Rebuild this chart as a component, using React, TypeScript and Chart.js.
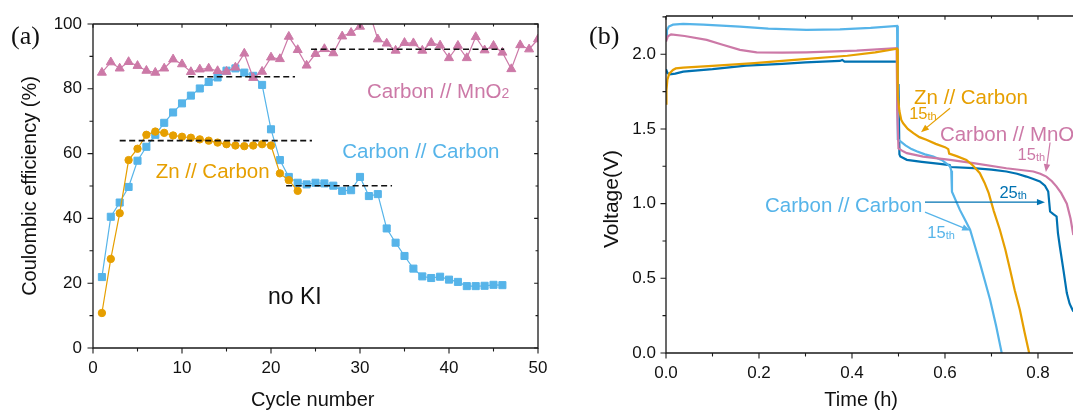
import React, { useEffect, useRef } from 'react';
import { Chart, registerables } from 'chart.js';

Chart.register(...registerables);

const FONT = "'Liberation Sans', Arial, sans-serif";
const PINK = '#CC79A7';
const SKY = '#56B4E9';
const ORANGE = '#E69F00';
const BLUE = '#0072B2';
const INK = '#111111';

// ---------- Panel (a): Coulombic efficiency vs cycle ----------
const cycles = [1, 2, 3, 4, 5, 6, 7, 8, 9, 10, 11, 12, 13, 14, 15, 16, 17, 18, 19, 20, 21, 22, 23, 24, 25,
  26, 27, 28, 29, 30, 31, 32, 33, 34, 35, 36, 37, 38, 39, 40, 41, 42, 43, 44, 45, 46, 47, 48, 49, 50];
const ceCarbonMnO2 = [85.0, 88.2, 86.3, 88.3, 87.1, 85.6, 85.0, 86.3, 89.1, 87.6, 85.2, 86.0, 86.3, 85.5, 85.3,
  86.6, 90.9, 83.4, 85.3, 89.7, 89.2, 96.1, 92.0, 87.2, 90.8, 92.3, 91.0, 96.2, 97.3, 99.2, 104.0, 95.3, 94.0,
  91.8, 94.2, 94.1, 91.8, 94.2, 93.4, 89.5, 93.3, 89.5, 96.0, 91.9, 93.3, 91.2, 86.1, 93.5, 92.2, 95.3];
const ceCarbonCarbon = [21.9, 40.5, 44.9, 49.7, 57.8, 62.1, 65.8, 69.5, 72.7, 75.5, 77.9, 80.1, 82.1, 83.5,
  85.6, 86.3, 85.0, 84.0, 81.2, 67.5, 58.0, 52.8, 51.0, 50.5, 51.0, 50.8, 50.1, 48.5, 48.7, 52.8, 46.9, 47.5,
  36.9, 32.5, 28.4, 24.5, 22.1, 21.6, 22.0, 21.1, 20.4, 19.1, 19.1, 19.2, 19.5, 19.4];
const ceZnCarbon = [10.8, 27.5, 41.6, 58.0, 61.5, 65.8, 66.8, 66.4, 65.6, 65.2, 64.9, 64.4, 64.0, 63.4, 62.9,
  62.5, 62.3, 62.5, 62.9, 62.5, 53.9, 51.8, 48.5];
const refLevel = [83.7, 64.0, 50.1, 92.2];
const refStart = [10.7, 3.0, 21.7, 24.5];
const refEnd = [22.7, 24.6, 33.6, 46.2];

// ---------- Panel (b): voltage vs time ----------
const ccTime15 = [0, 0.002, 0.006, 0.015, 0.037, 0.08, 0.159, 0.22, 0.302, 0.374, 0.44, 0.497, 0.4985, 0.505,
  0.515, 0.528, 0.539, 0.557, 0.575, 0.595, 0.611, 0.6135, 0.615, 0.632, 0.645, 0.654, 0.665, 0.675, 0.686,
  0.697, 0.71, 0.722];
const ccVolt15 = [2.11, 2.16, 2.185, 2.198, 2.203, 2.198, 2.185, 2.172, 2.163, 2.167, 2.177, 2.19, 1.43, 1.415,
  1.39, 1.365, 1.35, 1.33, 1.315, 1.288, 1.25, 1.22, 1.08, 0.958, 0.88, 0.825, 0.71, 0.603, 0.48, 0.357, 0.18, 0];

const znTime15 = [0, 0.001, 0.003, 0.007, 0.015, 0.021, 0.037, 0.1, 0.19, 0.29, 0.39, 0.45, 0.497, 0.4985,
  0.502, 0.506, 0.51, 0.52, 0.532, 0.545, 0.56, 0.58, 0.6, 0.607, 0.609, 0.625, 0.646, 0.66, 0.675, 0.685,
  0.694, 0.705, 0.718, 0.73, 0.74, 0.75, 0.761, 0.771, 0.781];
const znVolt15 = [1.67, 1.76, 1.83, 1.87, 1.895, 1.905, 1.91, 1.922, 1.94, 1.965, 1.99, 2.012, 2.037, 1.72,
  1.62, 1.56, 1.538, 1.5, 1.472, 1.445, 1.427, 1.4, 1.378, 1.365, 1.335, 1.318, 1.293, 1.255, 1.204, 1.14,
  1.07, 0.95, 0.825, 0.69, 0.557, 0.42, 0.29, 0.14, 0];

const ccTime25 = [0, 0.003, 0.008, 0.02, 0.037, 0.1, 0.172, 0.25, 0.3, 0.374, 0.379, 0.384, 0.45, 0.497,
  0.4985, 0.5, 0.502, 0.504, 0.518, 0.55, 0.589, 0.61, 0.612, 0.661, 0.7, 0.732, 0.755, 0.775, 0.79, 0.804,
  0.815, 0.822, 0.826, 0.833, 0.84, 0.843, 0.847, 0.855, 0.862, 0.868, 0.876];
const ccVolt25 = [1.9, 1.875, 1.865, 1.87, 1.884, 1.9, 1.924, 1.935, 1.945, 1.955, 1.962, 1.95, 1.95, 1.95,
  1.62, 1.8, 1.33, 1.315, 1.293, 1.28, 1.266, 1.258, 1.245, 1.237, 1.228, 1.215, 1.2, 1.181, 1.165, 1.148,
  1.12, 1.081, 0.947, 0.93, 0.914, 0.8, 0.713, 0.55, 0.401, 0.33, 0.278];

const cmTime15 = [0, 0.004, 0.011, 0.04, 0.0875, 0.12, 0.159, 0.195, 0.25, 0.302, 0.41, 0.496, 0.4975, 0.5,
  0.51, 0.518, 0.553, 0.611, 0.661, 0.732, 0.79, 0.805, 0.818, 0.83, 0.84, 0.85, 0.862, 0.87, 0.876];
const cmVolt15 = [2.085, 2.12, 2.133, 2.122, 2.096, 2.065, 2.029, 2.013, 2.011, 2.013, 2.024, 2.04, 1.6, 1.37,
  1.35, 1.338, 1.315, 1.293, 1.271, 1.237, 1.215, 1.2, 1.181, 1.15, 1.114, 1.07, 1.0, 0.9, 0.79];

type Seg = { t: string; size: number; dy?: number };
type Note = { x: number; y: number; color: string; segs: Seg[] };
type Arrow = { x1: number; y1: number; x2: number; y2: number; color: string };

const notesA: Note[] = [
  { x: 30.79, y: 79.4, color: PINK, segs: [{ t: 'Carbon // MnO', size: 20.5 }, { t: '2', size: 14 }] },
  { x: 28.0, y: 60.8, color: SKY, segs: [{ t: 'Carbon // Carbon', size: 20.5 }] },
  { x: 7.04, y: 54.6, color: ORANGE, segs: [{ t: 'Zn // Carbon', size: 20.5 }] },
  { x: 19.66, y: 16.0, color: INK, segs: [{ t: 'no KI', size: 23 }] },
];

const notesB: Note[] = [
  { x: 0.5335, y: 1.716, color: ORANGE, segs: [{ t: 'Zn // Carbon', size: 20.5 }] },
  { x: 0.523, y: 1.605, color: ORANGE, segs: [{ t: '15', size: 16.5 }, { t: 'th', size: 11, dy: 1 }] },
  { x: 0.589, y: 1.4716, color: PINK, segs: [{ t: 'Carbon // MnO', size: 20.5 }, { t: '2', size: 14 }] },
  { x: 0.756, y: 1.333, color: PINK, segs: [{ t: '15', size: 16.5 }, { t: 'th', size: 11, dy: 1 }] },
  { x: 0.717, y: 1.077, color: BLUE, segs: [{ t: '25', size: 16.5 }, { t: 'th', size: 11, dy: 1 }] },
  { x: 0.213, y: 0.992, color: SKY, segs: [{ t: 'Carbon // Carbon', size: 20.5 }] },
  { x: 0.562, y: 0.809, color: SKY, segs: [{ t: '15', size: 16.5 }, { t: 'th', size: 11, dy: 1 }] },
];

const arrowsB: Arrow[] = [
  { x1: 0.6108, y1: 1.639, x2: 0.5484, y2: 1.478, color: ORANGE },
  { x1: 0.826, y1: 1.409, x2: 0.817, y2: 1.211, color: PINK },
  { x1: 0.557, y1: 1.01, x2: 0.815, y2: 1.01, color: BLUE },
  { x1: 0.557, y1: 0.943, x2: 0.654, y2: 0.82, color: SKY },
];

const pts = (xs: number[], ys: number[]) => xs.map((x, i) => ({ x, y: ys[i] }));

type FrameCfg = { xMajor: number; xMinor: number; yMajor: number; yMinor: number; right: boolean };

function framePlugin(cfg: FrameCfg, notes: Note[], arrows: Arrow[]) {
  return {
    id: 'frameNotes',
    afterDatasetsDraw(chart: any) {
      const { ctx, chartArea: a, scales } = chart;
      const xs = scales.x;
      const ys = scales.y;
      ctx.save();
      ctx.strokeStyle = '#1a1a1a';
      ctx.lineWidth = 1.3;
      ctx.beginPath();
      ctx.moveTo(a.left, a.top);
      ctx.lineTo(a.left, a.bottom);
      ctx.lineTo(a.right, a.bottom);
      if (cfg.right) {
        ctx.lineTo(a.right, a.top);
        ctx.lineTo(a.left, a.top);
      } else {
        ctx.moveTo(a.left, a.top);
        ctx.lineTo(a.right, a.top);
      }
      ctx.stroke();
      ctx.lineWidth = 1.1;
      ctx.beginPath();
      const isMajor = (v: number, m: number) => Math.abs(v / m - Math.round(v / m)) < 1e-6;
      for (let k = 0; ; k++) {
        const v = xs.min + k * cfg.xMinor;
        if (v > xs.max + 1e-9) break;
        const p = xs.getPixelForValue(v);
        const L = isMajor(v, cfg.xMajor) ? 5.5 : 3.5;
        ctx.moveTo(p, a.bottom);
        ctx.lineTo(p, a.bottom + L);
        ctx.moveTo(p, a.top);
        ctx.lineTo(p, a.top + L * 0.7);
      }
      for (let k = 0; ; k++) {
        const v = ys.min + k * cfg.yMinor;
        if (v > ys.max + 1e-9) break;
        const p = ys.getPixelForValue(v);
        const L = isMajor(v, cfg.yMajor) ? 5.5 : 3.5;
        ctx.moveTo(a.left, p);
        ctx.lineTo(a.left - L, p);
        if (cfg.right) {
          ctx.moveTo(a.right, p);
          ctx.lineTo(a.right - L * 0.7, p);
        }
      }
      ctx.stroke();

      // arrows
      for (const ar of arrows) {
        const x1 = xs.getPixelForValue(ar.x1);
        const y1 = ys.getPixelForValue(ar.y1);
        const x2 = xs.getPixelForValue(ar.x2);
        const y2 = ys.getPixelForValue(ar.y2);
        const ang = Math.atan2(y2 - y1, x2 - x1);
        const hl = 8;
        const hw = 3.2;
        ctx.strokeStyle = ar.color;
        ctx.fillStyle = ar.color;
        ctx.lineWidth = 1.2;
        ctx.beginPath();
        ctx.moveTo(x1, y1);
        ctx.lineTo(x2 - Math.cos(ang) * hl * 0.8, y2 - Math.sin(ang) * hl * 0.8);
        ctx.stroke();
        ctx.beginPath();
        ctx.moveTo(x2, y2);
        ctx.lineTo(x2 - Math.cos(ang) * hl - Math.sin(ang) * hw, y2 - Math.sin(ang) * hl + Math.cos(ang) * hw);
        ctx.lineTo(x2 - Math.cos(ang) * hl + Math.sin(ang) * hw, y2 - Math.sin(ang) * hl - Math.cos(ang) * hw);
        ctx.closePath();
        ctx.fill();
      }

      // text notes
      ctx.textBaseline = 'alphabetic';
      ctx.textAlign = 'left';
      for (const n of notes) {
        let px = xs.getPixelForValue(n.x);
        const base = ys.getPixelForValue(n.y) + 0.358 * n.segs[0].size;
        ctx.fillStyle = n.color;
        for (const s of n.segs) {
          ctx.font = `${s.size}px ${FONT}`;
          ctx.fillText(s.t, px, base + (s.dy || 0));
          px += ctx.measureText(s.t).width;
        }
      }
      ctx.restore();
    },
  };
}

const tickFont = { family: FONT, size: 17 };
const titleFont = (size: number) => ({ family: FONT, size, lineHeight: 1 });

function makeConfigA(): any {
  const dashSets = refLevel.map((lv, i) => ({
    data: [{ x: refStart[i], y: lv }, { x: refEnd[i], y: lv }],
    borderColor: '#111',
    borderWidth: 1.6,
    borderDash: [6, 3.5],
    pointRadius: 0,
  }));
  return {
    type: 'line',
    data: {
      datasets: [
        ...dashSets,
        {
          data: pts(cycles.slice(0, ceZnCarbon.length), ceZnCarbon),
          borderColor: ORANGE, backgroundColor: ORANGE, borderWidth: 1.2,
          pointStyle: 'circle', pointRadius: 3.7, pointBorderWidth: 1, pointBorderColor: ORANGE,
        },
        {
          data: pts(cycles, ceCarbonMnO2),
          borderColor: PINK, backgroundColor: PINK, borderWidth: 1.2,
          pointStyle: 'triangle', pointRadius: 5.2, pointBorderWidth: 1, pointBorderColor: PINK,
        },
        {
          data: pts(cycles.slice(0, ceCarbonCarbon.length), ceCarbonCarbon),
          borderColor: SKY, backgroundColor: SKY, borderWidth: 1.2,
          pointStyle: 'rect', pointRadius: 5, pointBorderWidth: 1, pointBorderColor: SKY,
        },
      ],
    },
    options: {
      responsive: false,
      animation: false,
      events: [],
      layout: { padding: { top: 24, right: 10, left: 0, bottom: 0 } },
      plugins: { legend: { display: false }, tooltip: { enabled: false } },
      scales: {
        x: {
          type: 'linear', min: 0, max: 50,
          grid: { display: false, drawTicks: false }, border: { display: false },
          ticks: { stepSize: 10, includeBounds: false, padding: 10, font: tickFont, color: INK, maxRotation: 0 },
          title: { display: true, text: 'Cycle number ', font: titleFont(20), color: INK, padding: { top: 0, bottom: 0 } },
          afterFit: (s: any) => { s.height = 62; s.paddingLeft = 0; s.paddingRight = 0; },
        },
        y: {
          type: 'linear', min: 0, max: 100,
          grid: { display: false, drawTicks: false }, border: { display: false },
          ticks: { stepSize: 20, includeBounds: false, padding: 11, font: tickFont, color: INK },
          title: { display: true, text: 'Coulombic efficiency (%)', font: titleFont(20), color: INK, padding: { top: 20, bottom: 0 } },
          afterFit: (s: any) => { s.width = 93; s.paddingTop = 0; s.paddingBottom = 0; },
        },
      },
    },
    plugins: [framePlugin({ xMajor: 10, xMinor: 5, yMajor: 20, yMinor: 10, right: true }, notesA, [])],
  };
}

function makeConfigB(): any {
  const line = (xs: number[], ys: number[], color: string) => ({
    data: pts(xs, ys), borderColor: color, backgroundColor: color, borderWidth: 2.2, pointRadius: 0, tension: 0,
  });
  return {
    type: 'line',
    data: {
      datasets: [
        line(znTime15, znVolt15, ORANGE),
        line(cmTime15, cmVolt15, PINK),
        line(ccTime15, ccVolt15, SKY),
        line(ccTime25, ccVolt25, BLUE),
      ],
    },
    options: {
      responsive: false,
      animation: false,
      events: [],
      layout: { padding: { top: 16, right: 0, left: 0, bottom: 0 } },
      plugins: { legend: { display: false }, tooltip: { enabled: false } },
      scales: {
        x: {
          type: 'linear', min: 0, max: 0.8753,
          grid: { display: false, drawTicks: false }, border: { display: false },
          ticks: { stepSize: 0.2, includeBounds: false, padding: 10, font: tickFont, color: INK, maxRotation: 0,
            callback: (v: any) => Number(v).toFixed(1) },
          title: { display: true, text: 'Time (h)   ', font: titleFont(20), color: INK, padding: { top: 0, bottom: 0 } },
          afterFit: (s: any) => { s.height = 57; s.paddingLeft = 0; s.paddingRight = 0; },
        },
        y: {
          type: 'linear', min: 0, max: 2.256,
          grid: { display: false, drawTicks: false }, border: { display: false },
          ticks: { stepSize: 0.5, includeBounds: false, padding: 10, font: tickFont, color: INK,
            callback: (v: any) => Number(v).toFixed(1) },
          title: { display: true, text: 'Voltage(V)     ', font: titleFont(21), color: INK, padding: { top: 57, bottom: 0 } },
          afterFit: (s: any) => { s.width = 121; s.paddingTop = 0; s.paddingBottom = 0; },
        },
      },
    },
    plugins: [framePlugin({ xMajor: 0.2, xMinor: 0.1, yMajor: 0.5, yMinor: 0.25, right: false }, notesB, arrowsB)],
  };
}

export default function App() {
  const refA = useRef<HTMLCanvasElement>(null);
  const refB = useRef<HTMLCanvasElement>(null);
  useEffect(() => {
    const a = new Chart(refA.current as HTMLCanvasElement, makeConfigA());
    const b = new Chart(refB.current as HTMLCanvasElement, makeConfigB());
    return () => {
      a.destroy();
      b.destroy();
    };
  }, []);
  const letter: React.CSSProperties = {
    position: 'absolute', top: 22, font: "26px 'Liberation Serif', 'Times New Roman', serif", lineHeight: '28px', color: INK,
  };
  return (
    <div style={{ position: 'fixed', left: 0, top: 0, width: 1073, height: 410, background: '#fff', overflow: 'hidden' }}>
      <canvas ref={refA} width={548} height={410} style={{ position: 'absolute', left: 0, top: 0 }} />
      <canvas ref={refB} width={528} height={410} style={{ position: 'absolute', left: 545, top: 0 }} />
      <div style={{ ...letter, left: 11 }}>(a)</div>
      <div style={{ ...letter, left: 589 }}>(b)</div>
    </div>
  );
}
